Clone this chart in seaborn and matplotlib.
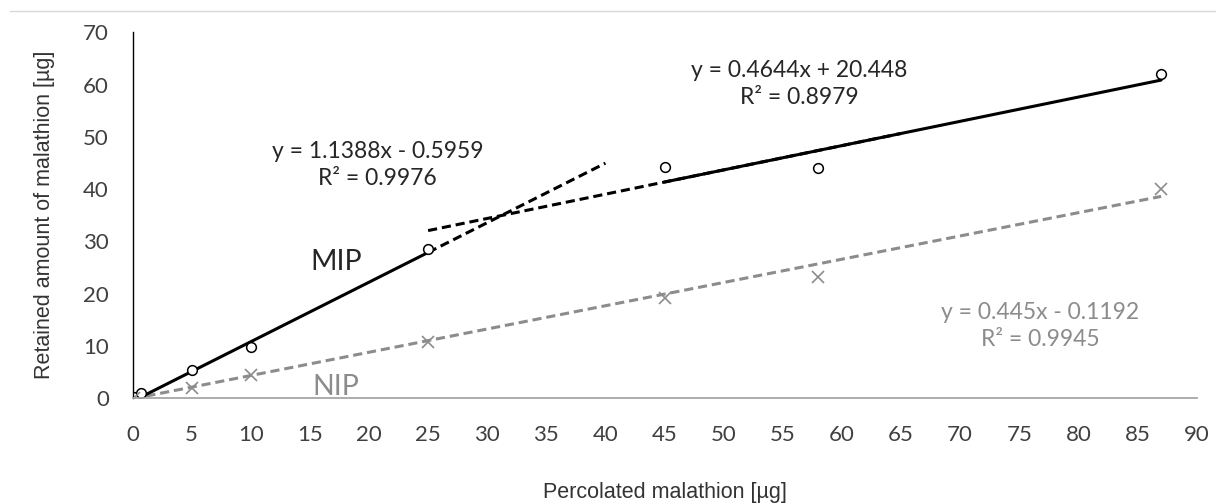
import numpy as np
import matplotlib
matplotlib.use("Agg")
import matplotlib.pyplot as plt
from matplotlib.lines import Line2D
import seaborn as sns

# data
mip_x = [0.1, 0.7, 5, 10, 25, 45, 58, 87]
mip_y = [0.3, 1.0, 5.4, 9.8, 28.6, 44.2, 44.0, 62.1]
nip_x = [0.1, 5, 10, 25, 45, 58, 87]
nip_y = [0.0, 2.0, 4.4, 10.8, 19.2, 23.2, 40.1]

# trendlines: (slope, intercept) plus the x ranges drawn solid / dashed
fit1 = (1.1388, -0.5959)
fit2 = (0.4644, 20.448)
fit_nip = (0.445, -0.1192)
fit1_solid, fit1_dash = (0, 25), (25, 40)
fit2_solid, fit2_dash = (45, 87), (25, 65)
nip_dash = (0, 87)

eq1 = "y = 1.1388x - 0.5959\nR² = 0.9976"
eq2 = "y = 0.4644x + 20.448\nR² = 0.8979"
eq_nip = "y = 0.445x - 0.1192\nR² = 0.9945"

x_ticks = list(range(0, 91, 5))
y_ticks = list(range(0, 71, 10))

sns.set_style("white")
plt.rcParams['font.family'] = ['Lato', 'DejaVu Sans']

fig = plt.figure(figsize=(12.16, 5.04), dpi=100)
ax = fig.add_axes([0.109, 0.21, 0.875, 0.726])

gray = '#8c8c8c'
txt = '#262626'


def trend(coef, rng, **kw):
    xs = np.array(rng, dtype=float)
    ys = coef[0] * xs + coef[1]
    sns.lineplot(x=xs, y=ys, ax=ax, **kw)


dash = (0, (3, 1.6))
trend(fit_nip, nip_dash, color=gray, linestyle=dash, linewidth=2.2)
trend(fit1, fit1_solid, color='black', linewidth=2.2)
trend(fit1, fit1_dash, color='black', linestyle=dash, linewidth=2.2)
trend(fit2, fit2_dash, color='black', linestyle=dash, linewidth=2.2)
trend(fit2, fit2_solid, color='black', linewidth=2.2)

ax.plot(mip_x, mip_y, linestyle='none', marker='o', markersize=7,
        markerfacecolor='white', markeredgecolor='black', markeredgewidth=1.1)
ax.plot(nip_x, nip_y, linestyle='none', marker='x', markersize=8,
        color=gray, markeredgewidth=1.2)

# annotations
ax.text(20.7, 44.6, eq1, ha='center', va='center', fontsize=16.5,
        linespacing=1.3, color=txt)
ax.text(56.4, 60.1, eq2, ha='center', va='center', fontsize=16.5,
        linespacing=1.3, color=txt)
ax.text(76.8, 13.8, eq_nip, ha='center', va='center', fontsize=16.5,
        color=gray, linespacing=1.3)
ax.text(17.2, 26.0, "MIP", ha='center', va='center', fontsize=20.5, color=txt)
ax.text(17.2, 2.1, "NIP", ha='center', va='center', fontsize=20.5, color=gray)

ax.set_xlim(0, 90)
ax.set_ylim(0, 70)
ax.set_xticks(x_ticks)
ax.set_yticks(y_ticks)
ax.tick_params(axis='both', labelsize=16, length=0, colors='#404040')
ax.tick_params(axis='x', pad=19)
ax.tick_params(axis='y', pad=17)
for s in ['top', 'right']:
    ax.spines[s].set_visible(False)
ax.spines['left'].set_color('black')
ax.spines['bottom'].set_color('#a6a6a6')
ax.spines['left'].set_linewidth(1.0)
ax.spines['bottom'].set_linewidth(1.3)

ax.set_xlabel("Percolated malathion [µg]", fontsize=15.5,
              family='Liberation Sans', labelpad=27, color='#333333')
ax.set_ylabel("Retained amount of malathion [µg]", fontsize=15.5,
              family='Liberation Sans', labelpad=20, color='#333333')

fig.add_artist(Line2D([0.008, 1.0], [0.978, 0.978], color='#d9d9d9', linewidth=1.0))

fig.savefig('out.png', dpi=100)
